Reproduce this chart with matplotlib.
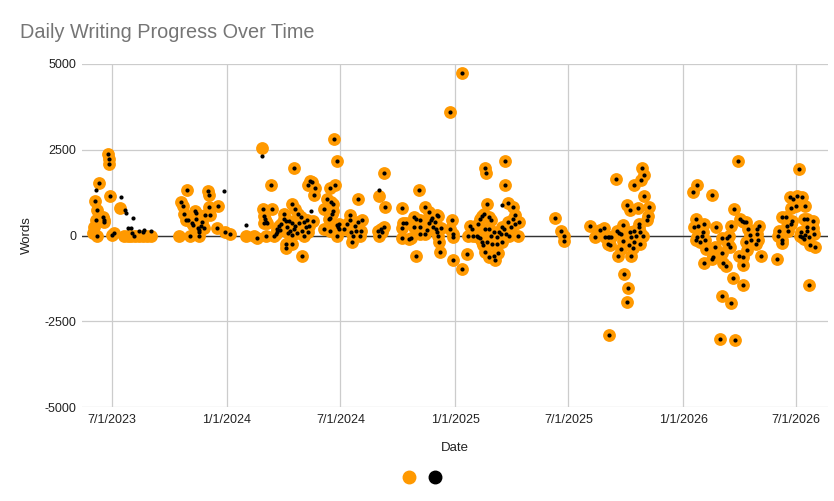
import matplotlib
matplotlib.use("Agg")
import matplotlib.pyplot as plt
from matplotlib.lines import Line2D
import pandas as pd

plt.rcParams['font.family'] = ['Liberation Sans', 'DejaVu Sans']
plt.rcParams['axes.unicode_minus'] = False

# days where both series have a value (orange with black dot on top)
both_2023 = [
    ("2023-06-25", 2390), ("2023-06-26", 2235), ("2023-06-27", 2090), ("2023-06-10", 1525),
    ("2023-06-04", 1020), ("2023-06-28", 1140), ("2023-06-07", 730), ("2023-06-16", 535),
    ("2023-06-19", 440), ("2023-06-18", 390), ("2023-06-05", 455), ("2023-06-07", 0),
    ("2023-07-01", 20), ("2023-07-04", 70),
    ("2023-10-29", 1330), ("2023-10-20", 990), ("2023-10-22", 860), ("2023-10-24", 620),
    ("2023-10-31", 455), ("2023-10-28", 440), ("2023-11-06", 360), ("2023-11-08", 300),
    ("2023-11-11", 720), ("2023-11-13", 650), ("2023-11-12", 485), ("2023-11-16", 230),
    ("2023-11-17", 100), ("2023-11-18", 170), ("2023-11-20", 280), ("2023-11-23", 380),
    ("2023-11-03", 0), ("2023-11-17", 0), ("2023-11-25", 205), ("2023-12-02", 1310),
    ("2023-12-03", 1170), ("2023-12-03", 820), ("2023-11-27", 585), ("2023-12-05", 600),
    ("2023-12-18", 855), ("2023-12-16", 225), ("2023-12-29", 95),
]

both_2024 = [
    ("2024-01-06", 30), ("2024-02-18", -60), ("2024-03-12", 1485), ("2024-04-18", 1975),
    ("2024-05-13", 1600), ("2024-05-16", 1555), ("2024-05-10", 1460), ("2024-05-21", 1390),
    ("2024-05-20", 1185), ("2024-04-15", 925), ("2024-04-20", 760), ("2024-04-24", 640),
    ("2024-02-28", 780), ("2024-03-14", 780), ("2024-02-29", 560), ("2024-03-02", 470),
    ("2024-03-04", 400), ("2024-03-06", 350), ("2024-02-29", 350), ("2024-03-04", -20),
    ("2024-03-16", 0), ("2024-03-19", 50), ("2024-03-21", 195), ("2024-03-24", 270),
    ("2024-03-28", 340), ("2024-04-01", 485), ("2024-04-02", 630), ("2024-04-04", 410),
    ("2024-04-07", 245), ("2024-04-10", 410), ("2024-04-11", 145), ("2024-04-14", 370),
    ("2024-04-15", 20), ("2024-04-18", 195), ("2024-04-20", 290), ("2024-04-26", 370),
    ("2024-04-29", 535), ("2024-04-30", 145), ("2024-05-03", 0), ("2024-05-04", 390),
    ("2024-05-07", 245), ("2024-05-08", 465), ("2024-05-10", 95), ("2024-05-18", 410),
    ("2024-04-04", -240), ("2024-04-15", -240), ("2024-04-04", -370), ("2024-05-01", -600),
    ("2024-03-22", 100), ("2024-03-26", 150), ("2024-04-08", 60), ("2024-04-23", 80),
    ("2024-05-12", 280),
    ("2024-06-05", 780), ("2024-06-10", 1070), ("2024-06-16", 970), ("2024-06-19", 925),
    ("2024-06-20", 2800), ("2024-06-26", 2160), ("2024-06-14", 1380), ("2024-06-23", 1460),
    ("2024-06-12", 485), ("2024-06-05", 195), ("2024-06-14", 145), ("2024-06-19", 700),
    ("2024-06-17", 630), ("2024-06-14", 515), ("2024-06-25", 300), ("2024-06-27", 250),
    ("2024-06-28", 200), ("2024-06-29", 330), ("2024-06-25", -20), ("2024-07-07", 175),
    ("2024-07-12", 340), ("2024-07-16", 585), ("2024-07-17", 440), ("2024-07-18", 95),
    ("2024-07-21", 0), ("2024-07-24", 270), ("2024-07-26", 145), ("2024-07-29", 390),
    ("2024-08-01", 0), ("2024-08-03", 145), ("2024-08-04", 465), ("2024-07-19", -195),
    ("2024-07-29", 1050),
    ("2024-08-30", 145), ("2024-09-04", 195), ("2024-09-09", 245), ("2024-09-01", 0),
    ("2024-09-06", 100), ("2024-09-08", 1815), ("2024-09-10", 845),
    ("2024-10-07", 805), ("2024-11-04", 1340), ("2024-10-10", 360), ("2024-10-08", 215),
    ("2024-10-08", -70), ("2024-10-22", -70), ("2024-10-14", 360), ("2024-10-19", -95),
    ("2024-10-27", 535), ("2024-10-27", 245), ("2024-10-30", 485), ("2024-11-05", 440),
    ("2024-11-05", 245), ("2024-11-05", 50), ("2024-11-13", 825), ("2024-11-20", 680),
    ("2024-11-14", 50), ("2024-11-17", 150), ("2024-11-20", 360), ("2024-11-23", 455),
    ("2024-11-25", 515), ("2024-11-30", 390), ("2024-12-01", 200), ("2024-12-03", 585),
    ("2024-12-05", 560), ("2024-11-27", 245), ("2024-12-03", 95), ("2024-12-05", 0),
    ("2024-12-06", -195), ("2024-12-08", -485), ("2024-12-09", 225), ("2024-12-27", 455),
    ("2024-12-23", 195), ("2024-12-29", 50), ("2024-12-28", -50), ("2024-10-30", -585),
    ("2024-12-29", -700), ("2024-12-24", 3615),
]

both_2025 = [
    ("2025-01-12", 4730), ("2025-01-12", -980), ("2025-01-19", -535), ("2025-01-21", 0),
    ("2025-01-30", 0), ("2025-01-25", 290), ("2025-01-28", 195), ("2025-02-07", 340),
    ("2025-02-10", 485), ("2025-02-13", 560), ("2025-02-16", 630), ("2025-02-18", 1975),
    ("2025-02-19", 1815), ("2025-02-21", 925), ("2025-02-24", 535), ("2025-02-27", 455),
    ("2025-02-04", 0), ("2025-02-07", -30), ("2025-02-10", -60), ("2025-02-13", -195),
    ("2025-02-15", -290), ("2025-02-18", -485), ("2025-02-24", -630), ("2025-03-04", -585),
    ("2025-03-10", -515), ("2025-03-06", -710), ("2025-02-17", 195), ("2025-02-24", 195),
    ("2025-02-27", 0), ("2025-03-04", 95), ("2025-03-08", -50), ("2025-03-12", 95),
    ("2025-03-15", 50), ("2025-03-17", 245), ("2025-03-20", 195), ("2025-03-23", 30),
    ("2025-03-26", 390), ("2025-03-28", 0), ("2025-04-01", 245), ("2025-04-03", 485),
    ("2025-04-06", 340), ("2025-04-11", 0), ("2025-04-13", 390), ("2025-03-26", 940),
    ("2025-04-04", 825), ("2025-04-06", 585), ("2025-03-21", 2185), ("2025-03-21", 1485),
    ("2025-02-21", -195), ("2025-03-01", -240), ("2025-03-08", -240), ("2025-03-17", -195),
    ("2025-06-10", 515), ("2025-06-20", 125), ("2025-06-24", -20), ("2025-06-24", -165),
    ("2025-08-05", 290), ("2025-08-12", -30), ("2025-08-20", 165), ("2025-08-27", 225),
    ("2025-08-29", -30), ("2025-09-02", -40), ("2025-09-04", -30), ("2025-09-08", -50),
    ("2025-09-02", -245), ("2025-09-06", -265), ("2025-09-04", -2890), ("2025-09-16", 1650),
    ("2025-09-17", 125), ("2025-09-20", 60), ("2025-09-24", 50), ("2025-09-26", 320),
    ("2025-09-26", -165), ("2025-09-24", -390), ("2025-09-18", -610), ("2025-10-09", -585),
    ("2025-09-28", -1120), ("2025-10-04", -1525), ("2025-10-03", -1925), ("2025-10-08", 95),
    ("2025-10-15", 125), ("2025-10-17", 0), ("2025-10-09", -30), ("2025-10-14", -195),
    ("2025-10-06", -290), ("2025-10-12", -360), ("2025-10-24", -240), ("2025-10-29", 0),
    ("2025-10-24", 95), ("2025-10-22", 245), ("2025-10-22", 340), ("2025-11-04", 440),
    ("2025-11-06", 555), ("2025-11-08", 845), ("2025-10-31", 1140), ("2025-10-20", 805),
    ("2025-10-08", 750), ("2025-10-03", 900), ("2025-10-25", 1605), ("2025-10-31", 1750),
    ("2025-10-27", 1975), ("2025-10-14", 1485),
]

both_2026 = [
    ("2026-01-23", 1480), ("2026-01-17", 1265), ("2026-02-16", 1185), ("2026-01-22", 485),
    ("2026-01-19", 245), ("2026-01-25", 290), ("2026-02-04", 340), ("2026-02-02", 115),
    ("2026-01-31", 0), ("2026-01-23", -50), ("2026-01-22", -145), ("2026-01-28", -175),
    ("2026-02-05", -145), ("2026-02-07", -390), ("2026-02-21", -340), ("2026-02-18", -630),
    ("2026-02-04", -800), ("2026-02-16", -680), ("2026-02-23", 245), ("2026-03-04", -80),
    ("2026-03-12", -80), ("2026-03-16", -20), ("2026-03-14", -240), ("2026-03-04", -505),
    ("2026-03-06", -800), ("2026-03-11", -875), ("2026-03-17", -340), ("2026-03-18", 270),
    ("2026-03-24", 760), ("2026-03-30", 2160), ("2026-04-02", 485), ("2026-04-05", 430),
    ("2026-04-09", 390), ("2026-04-12", 390), ("2026-04-15", 195), ("2026-04-18", 20),
    ("2026-04-19", -145), ("2026-04-12", -195), ("2026-04-13", -435), ("2026-04-07", -630),
    ("2026-04-01", -600), ("2026-04-07", -855), ("2026-03-04", -1750), ("2026-03-19", -1975),
    ("2026-03-01", -3030), ("2026-03-25", -3040), ("2026-03-22", -1235), ("2026-04-07", -1430),
    ("2026-04-29", 195), ("2026-05-03", 270), ("2026-04-30", 50), ("2026-05-01", -145),
    ("2026-04-28", -240), ("2026-05-05", -585),
    ("2026-06-01", -680), ("2026-06-08", 535), ("2026-06-15", 535), ("2026-06-04", 145),
    ("2026-06-02", 0), ("2026-06-08", -145), ("2026-06-09", -215), ("2026-06-16", 290),
    ("2026-06-18", 145), ("2026-06-22", 340), ("2026-06-25", 410), ("2026-06-21", 1120),
    ("2026-06-26", 1050), ("2026-07-03", 1145), ("2026-07-10", 1120), ("2026-07-01", 855),
    ("2026-06-22", 800), ("2026-07-15", 855), ("2026-07-06", 1945), ("2026-07-13", 485),
    ("2026-07-19", 485), ("2026-07-28", 410), ("2026-07-19", 245), ("2026-07-28", 215),
    ("2026-07-29", 50), ("2026-07-22", -50), ("2026-07-08", 115), ("2026-07-07", 0),
    ("2026-07-10", -50), ("2026-07-14", -95), ("2026-07-15", 20), ("2026-07-19", 145),
    ("2026-07-23", -290), ("2026-07-31", -340), ("2026-07-22", -1430),
]

# days with only the orange series
orange_only = [
    ("2023-06-02", 235), ("2023-06-01", 60), ("2023-07-14", 805), ("2023-07-20", 0),
    ("2023-07-26", 0), ("2023-08-01", 0), ("2023-08-07", 0), ("2023-08-13", 0),
    ("2023-08-19", 0), ("2023-08-26", 0), ("2023-09-01", 0), ("2023-10-17", 0),
    ("2024-02-01", 0), ("2024-02-13", 0), ("2024-02-26", 2560), ("2024-09-01", 1165),
]

# days with only the black series
black_only = [
    ("2023-06-05", 1340), ("2023-07-15", 1130), ("2023-07-22", 750), ("2023-07-24", 660),
    ("2023-08-03", 520), ("2023-07-27", 210), ("2023-07-31", 225), ("2023-08-02", 80),
    ("2023-08-06", 0), ("2023-08-14", 125), ("2023-08-19", 95), ("2023-08-21", 165),
    ("2023-09-02", 145), ("2023-12-27", 1300), ("2024-02-26", 2330), ("2024-02-01", 310),
    ("2024-05-15", 700), ("2024-09-01", 1330), ("2025-03-17", 875),
]

tick_dates = ["2023-07-01", "2024-01-01", "2024-07-01", "2025-01-01",
              "2025-07-01", "2026-01-01", "2026-07-01"]
tick_labels = ["7/1/2023", "1/1/2024", "7/1/2024", "1/1/2025",
               "7/1/2025", "1/1/2026", "7/1/2026"]
y_ticks = [-5000, -2500, 0, 2500, 5000]

both = both_2023 + both_2024 + both_2025 + both_2026
orange = pd.DataFrame(both + orange_only, columns=["date", "words"])
black = pd.DataFrame(both + black_only, columns=["date", "words"])
orange["date"] = pd.to_datetime(orange["date"])
black["date"] = pd.to_datetime(black["date"])

ORANGE = "#ff9900"
GRID = "#cccccc"

fig = plt.figure(figsize=(8.34, 5.01), dpi=100)
ax = fig.add_axes([82 / 834, 1 - 407 / 501, 746 / 834, 343 / 501])

ax.scatter(orange["date"], orange["words"], s=85, color=ORANGE, linewidths=0, zorder=3)
ax.scatter(black["date"], black["words"], s=9, color="black", linewidths=0, zorder=4)

ax.set_xlim(pd.Timestamp("2023-05-14"), pd.Timestamp("2026-08-21"))
ax.set_ylim(-5000, 5000)
ax.set_xticks(pd.to_datetime(tick_dates))
ax.set_xticklabels(tick_labels)
ax.set_yticks(y_ticks)
ax.grid(True, color=GRID, linewidth=0.9, zorder=0)
ax.axhline(0, color="#333333", linewidth=1.0, zorder=2)
for s in ax.spines.values():
    s.set_visible(False)
ax.tick_params(length=0, labelsize=9, colors="#222222")
ax.tick_params(axis="x", pad=5)
ax.tick_params(axis="y", pad=4)

ax.set_xlabel("Date", fontsize=9.5, color="#222222", va="center")
ax.set_ylabel("Words", fontsize=9.5, color="#222222", va="center")
ax.xaxis.set_label_coords((455 - 82) / 746, (407 - 448) / 343)
ax.yaxis.set_label_coords((27 - 82) / 746, 0.5)

fig.text(20 / 834, 1 - 32 / 501, "Daily Writing Progress Over Time",
         fontsize=14.3, color="#757575", va="center", ha="left")

handles = [Line2D([], [], marker="o", linestyle="", markersize=9, color=ORANGE),
           Line2D([], [], marker="o", linestyle="", markersize=9, color="black")]
fig.legend(handles, ["", ""], loc="center", bbox_to_anchor=(422 / 834, 1 - 478 / 501),
           ncol=2, frameon=False, handlelength=1, handletextpad=0, columnspacing=0.9)

fig.savefig("out.png", dpi=100)
